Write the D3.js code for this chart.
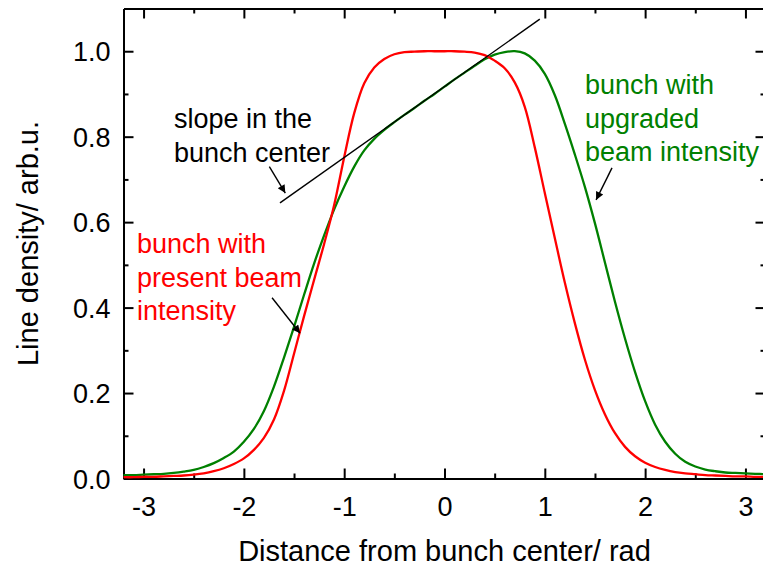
<!DOCTYPE html>
<html>
<head>
<meta charset="utf-8">
<script src="https://cdn.jsdelivr.net/npm/d3@7"></script>
<style>
  html, body { margin: 0; padding: 0; background: #fff; }
  svg { display: block; font-family: "Liberation Sans", Arial, sans-serif; }
</style>
</head>
<body>
<svg id="chart" width="763" height="567"></svg>
<script>
// Sample positions along the bunch (rad)
const phase = [-3.2, -3.1, -3.0, -2.9, -2.8, -2.7, -2.6, -2.5, -2.4, -2.3, -2.2, -2.1, -2.0, -1.9, -1.8, -1.7, -1.6, -1.5, -1.4, -1.3, -1.2, -1.1, -1.0, -0.9, -0.8, -0.7, -0.6, -0.5, -0.4, -0.3, -0.2, -0.1, 0.0, 0.1, 0.2, 0.3, 0.4, 0.5, 0.6, 0.7, 0.8, 0.9, 1.0, 1.1, 1.2, 1.3, 1.4, 1.5, 1.6, 1.7, 1.8, 1.9, 2.0, 2.1, 2.2, 2.3, 2.4, 2.5, 2.6, 2.7, 2.8, 2.9, 3.0, 3.1, 3.2];

// Line density, present beam intensity
const presentDensity = [0.003, 0.003, 0.004, 0.004, 0.005, 0.006, 0.007, 0.009, 0.012, 0.017, 0.024, 0.034, 0.047, 0.067, 0.095, 0.138, 0.205, 0.292, 0.380, 0.465, 0.549, 0.640, 0.752, 0.855, 0.925, 0.962, 0.982, 0.993, 0.998, 0.999, 1.000, 1.000, 1.000, 1.000, 0.999, 0.997, 0.991, 0.978, 0.960, 0.927, 0.870, 0.775, 0.668, 0.562, 0.458, 0.363, 0.278, 0.207, 0.150, 0.106, 0.074, 0.052, 0.037, 0.027, 0.020, 0.015, 0.012, 0.010, 0.008, 0.007, 0.006, 0.005, 0.005, 0.004, 0.004];

// Line density, upgraded beam intensity
const upgradedDensity = [0.008, 0.008, 0.009, 0.010, 0.011, 0.013, 0.016, 0.020, 0.027, 0.036, 0.048, 0.063, 0.086, 0.116, 0.158, 0.215, 0.283, 0.355, 0.430, 0.503, 0.569, 0.630, 0.683, 0.730, 0.768, 0.795, 0.816, 0.834, 0.851, 0.867, 0.884, 0.900, 0.917, 0.934, 0.950, 0.966, 0.981, 0.992, 0.998, 1.000, 0.995, 0.978, 0.947, 0.897, 0.830, 0.758, 0.682, 0.597, 0.505, 0.413, 0.327, 0.249, 0.181, 0.126, 0.086, 0.058, 0.039, 0.028, 0.021, 0.017, 0.014, 0.013, 0.012, 0.011, 0.010];

// Tangent to the upgraded profile in the bunch center
const slopeX = [-1.64, 0.95];
const slopeY = [0.645, 1.075];

// Axis ticks
const xMajorTicks = [-3, -2, -1, 0, 1, 2, 3];
const xMinorTicks = [-2.5, -1.5, -0.5, 0.5, 1.5, 2.5];
const yMajorTicks = [0.0, 0.2, 0.4, 0.6, 0.8, 1.0];
const yMinorTicks = [0.1, 0.3, 0.5, 0.7, 0.9];

const svg = d3.select("#chart");
const margin = { left: 123.5, right: 765.5, top: 8.5, bottom: 478.5 };

const x = d3.scaleLinear().domain([-3.2, 3.2]).range([margin.left, margin.right]);
const y = d3.scaleLinear().domain([0, 1.1]).range([margin.bottom, margin.top]);

const FONT = 27;
const TITLE_FONT = 29;

// Axes on all four sides, ticks pointing inwards
function drawAxis(axisGen, transform, majors, minors, showLabels, fmt) {
  const g = svg.append("g").attr("transform", transform);
  g.call(axisGen.tickValues(majors).tickSizeInner(-10).tickSizeOuter(0)
    .tickFormat(showLabels ? fmt : ""));
  g.select(".domain").attr("stroke", "#000").attr("stroke-width", 2);
  g.selectAll(".tick line").attr("stroke", "#000").attr("stroke-width", 2);
  g.selectAll(".tick text").attr("font-size", FONT).attr("fill", "#000")
    .attr("font-family", "Liberation Sans, Arial, sans-serif");
  const gm = svg.append("g").attr("transform", transform);
  gm.call(axisGen.tickValues(minors).tickSizeInner(-5).tickSizeOuter(0).tickFormat(""));
  gm.select(".domain").remove();
  gm.selectAll(".tick line").attr("stroke", "#000").attr("stroke-width", 2);
  return g;
}

const gx = drawAxis(d3.axisBottom(x), `translate(0,${margin.bottom})`, xMajorTicks, xMinorTicks, true, d3.format("d"));
gx.selectAll(".tick text").attr("y", 18).attr("dy", "0.71em")
  .text(d => d < 0 ? "-" + Math.abs(d) : d);
drawAxis(d3.axisTop(x), `translate(0,${margin.top})`, xMajorTicks, xMinorTicks, false);
const gy = drawAxis(d3.axisLeft(y), `translate(${margin.left},0)`, yMajorTicks, yMinorTicks, true, d3.format(".1f"));
gy.selectAll(".tick text").attr("x", -13).attr("dy", "0.36em");
drawAxis(d3.axisRight(y), `translate(${margin.right},0)`, yMajorTicks, yMinorTicks, false);

// Axis titles
svg.append("text")
  .attr("x", x(0)).attr("y", 561)
  .attr("text-anchor", "middle").attr("font-size", TITLE_FONT).attr("fill", "#000")
  .text("Distance from bunch center/ rad");
svg.append("text")
  .attr("transform", `translate(38,${(margin.top + margin.bottom) / 2}) rotate(-90)`)
  .attr("text-anchor", "middle").attr("font-size", TITLE_FONT).attr("fill", "#000")
  .text("Line density/ arb.u.");

// Curves
const line = d3.line().x(d => x(d[0])).y(d => y(d[1])).curve(d3.curveCatmullRom.alpha(0.5));
const present = phase.map((v, i) => [v, presentDensity[i]]);
const upgraded = phase.map((v, i) => [v, upgradedDensity[i]]);

svg.append("path").datum(upgraded).attr("d", line)
  .attr("fill", "none").attr("stroke", "#008000").attr("stroke-width", 2.3);
svg.append("path").datum(present).attr("d", line)
  .attr("fill", "none").attr("stroke", "#ff0000").attr("stroke-width", 2.3);

// Tangent line
svg.append("line")
  .attr("x1", x(slopeX[0])).attr("y1", y(slopeY[0]))
  .attr("x2", x(slopeX[1])).attr("y2", y(slopeY[1]))
  .attr("stroke", "#000").attr("stroke-width", 1.4);

// Arrowheads
svg.append("defs").append("marker")
  .attr("id", "head").attr("viewBox", "0 0 10 10")
  .attr("refX", 10).attr("refY", 5)
  .attr("markerWidth", 12).attr("markerHeight", 8)
  .attr("markerUnits", "userSpaceOnUse")
  .attr("orient", "auto")
  .append("path").attr("d", "M0,0 L10,5 L0,10 Z").attr("fill", "#000");

const arrows = [
  { from: [-1.746, 0.730], to: [-1.587, 0.668] },
  { from: [-1.719, 0.423], to: [-1.44, 0.340] },
  { from: [1.670, 0.727], to: [1.511, 0.652] }
];
svg.selectAll("line.arrow").data(arrows).join("line")
  .attr("class", "arrow")
  .attr("x1", d => x(d.from[0])).attr("y1", d => y(d.from[1]))
  .attr("x2", d => x(d.to[0])).attr("y2", d => y(d.to[1]))
  .attr("stroke", "#000").attr("stroke-width", 1.4)
  .attr("marker-end", "url(#head)");

// Annotations
function multiline(lines, px, py, color) {
  const t = svg.append("text").attr("font-size", FONT).attr("fill", color);
  lines.forEach((s, i) => t.append("tspan").attr("x", px).attr("y", py + i * 33.5).text(s));
}
multiline(["slope in the", "bunch center"], 174, 128, "#000");
multiline(["bunch with", "upgraded", "beam intensity"], 585, 94, "#008000");
multiline(["bunch with", "present beam", "intensity"], 137, 253, "#ff0000");
</script>
</body>
</html>
